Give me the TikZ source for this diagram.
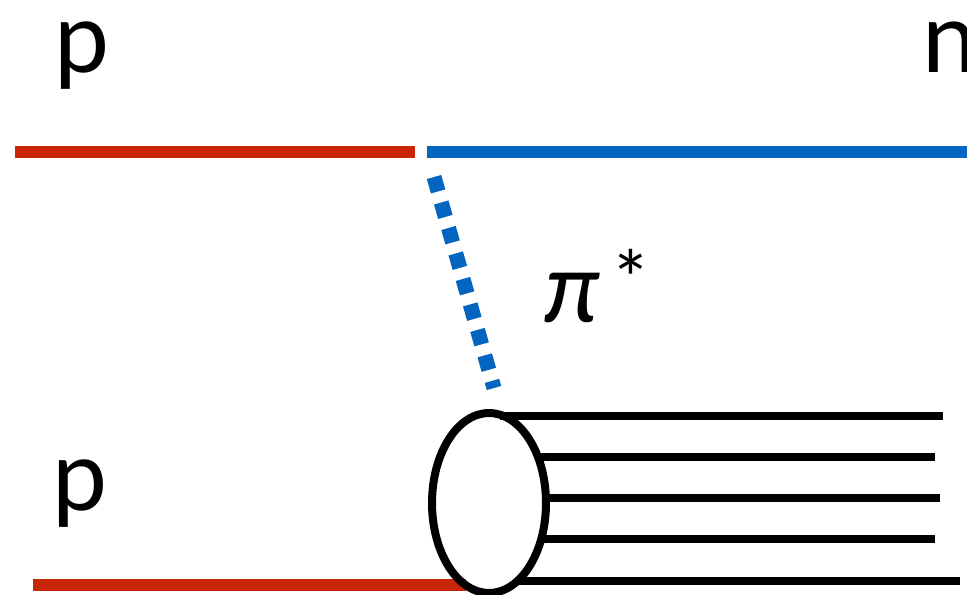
\documentclass[tikz,border=0pt]{standalone}
\usepackage{fontspec}
\setmainfont{Lato}
\usetikzlibrary{shapes.geometric}
\definecolor{protonred}{RGB}{200,38,8}
\definecolor{pionblue}{RGB}{3,101,192}
\begin{document}
\begin{tikzpicture}[x=0.02cm, y=-0.02cm,
  proton/.style={line width=0.24cm, color=protonred},
  neutron/.style={line width=0.24cm, color=pionblue},
  pion/.style={line width=0.3cm, color=pionblue, dash pattern=on 0.3cm off 0.23cm},
  jet/.style={line width=0.16cm, color=black},
  blob/.style={ellipse, draw, line width=0.16cm, minimum width=2.28cm, minimum height=3.6cm, inner sep=0pt},
  lbl/.style={font=\fontsize{56}{60}\selectfont, anchor=base, inner sep=0pt}
]
  \useasboundingbox (0,0) rectangle (967,595);

  % labels
  \node[lbl] (pin) at (82, 72) {p};
  \node[lbl, anchor=base west] (nout) at (922, 72) {n};
  \node[lbl] (ptarget) at (80, 510) {p};
  \node[lbl, anchor=base west] (pilbl) at (544, 322) {\itshape π\hspace{0.28cm}\raisebox{0.3cm}{\upshape\fontsize{44}{44}\selectfont *}};

  % beam proton turns into neutron
  \coordinate (pstart) at (15, 152);
  \coordinate (vtxl) at (415, 152);
  \coordinate (vtxr) at (427, 152);
  \coordinate (nend) at (967, 152);
  \draw[proton] (pstart) -- (vtxl);
  \draw[neutron] (vtxr) -- (nend);

  % virtual pion exchange
  \coordinate (pitop) at (434, 177);
  \coordinate (pibot) at (494, 388);
  \draw[pion] (pitop) -- (pibot);

  % target proton and breakup
  \coordinate (tstart) at (33, 585);
  \coordinate (tend) at (466, 585);
  \draw[proton] (tstart) -- (tend);
  \node[blob] (blob) at (489, 503) {};

  \foreach \ya/\xa/\xb [count=\i] in {416/500/943, 457/540/935, 498/545/940, 539/540/935, 581/515/960} {
    \coordinate (js\i) at (\xa, \ya);
    \coordinate (je\i) at (\xb, \ya);
    \draw[jet] (js\i) -- (je\i);
  }
\end{tikzpicture}
\end{document}
